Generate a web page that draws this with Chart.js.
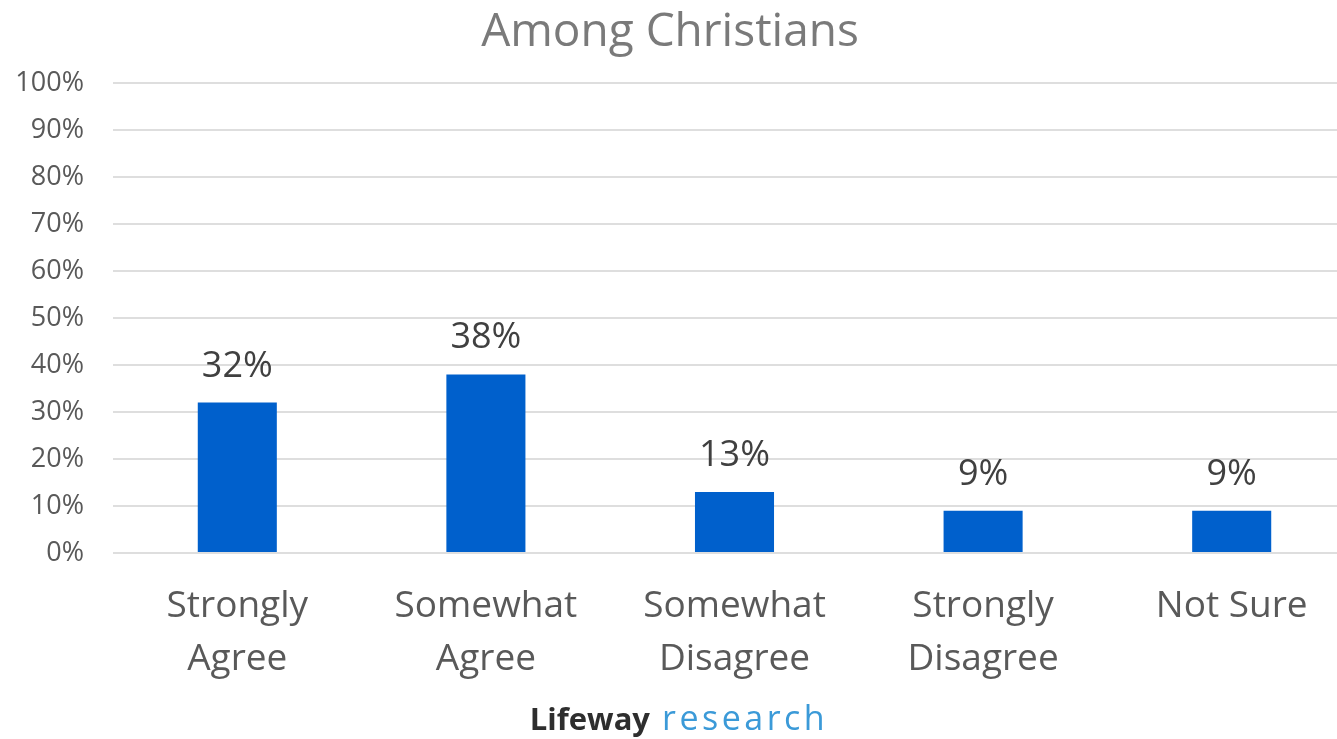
<!DOCTYPE html>
<html>
<head>
<meta charset="utf-8">
<script src="https://cdn.jsdelivr.net/npm/chart.js@4.4.1/dist/chart.umd.min.js"></script>
<style>
  html, body { margin: 0; padding: 0; background: #fff; overflow: hidden; }
  #wrap { position: relative; width: 1356px; height: 739px; }
</style>
</head>
<body>
<div id="wrap"><canvas id="chart"></canvas></div>
<script>
const categories = [['Strongly', 'Agree'], ['Somewhat', 'Agree'], ['Somewhat', 'Disagree'], ['Strongly', 'Disagree'], 'Not Sure'];
const shares = [32, 38, 13, 9, 9];
const yTicks = [0, 10, 20, 30, 40, 50, 60, 70, 80, 90, 100];

const FONT = '"Open Sans", Lato, sans-serif';

// value labels over the bars, title and the brand line at the bottom
const extras = {
  id: 'extras',
  afterDatasetsDraw(chart) {
    const ctx = chart.ctx;
    const meta = chart.getDatasetMeta(0);
    ctx.save();
    ctx.textAlign = 'center';
    ctx.textBaseline = 'alphabetic';
    ctx.fillStyle = '#404040';
    ctx.font = '36px ' + FONT;
    meta.data.forEach((bar, i) => {
      ctx.fillText(shares[i] + '%', bar.x, bar.y - 26);
    });

    ctx.fillStyle = '#7a7a7a';
    ctx.font = '46px ' + FONT;
    ctx.fillText('Among Christians', 670, 46);

    ctx.textAlign = 'left';
    ctx.font = 'bold 31px ' + FONT;
    const w1 = ctx.measureText('Lifeway').width;
    ctx.font = '34px ' + FONT;
    ctx.letterSpacing = '3.5px';
    const w2 = ctx.measureText('research').width;
    const x0 = 679 - (w1 + 12 + w2) / 2;
    ctx.fillStyle = '#3b9ad8';
    ctx.fillText('research', x0 + w1 + 12, 730);
    ctx.letterSpacing = '0px';
    ctx.font = 'bold 31px ' + FONT;
    ctx.fillStyle = '#2e2e2e';
    ctx.fillText('Lifeway', x0, 730);
    ctx.restore();
  }
};

new Chart(document.getElementById('chart'), {
  type: 'bar',
  data: {
    labels: categories,
    datasets: [{
      data: shares,
      backgroundColor: '#0060cc',
      barPercentage: 0.318,
      categoryPercentage: 1
    }]
  },
  options: {
    responsive: true,
    maintainAspectRatio: false,
    animation: false,
    layout: { padding: { top: 83, right: 0, bottom: 0, left: 0 } },
    plugins: {
      legend: { display: false },
      tooltip: { enabled: false }
    },
    scales: {
      x: {
        afterFit(scale) { scale.height = 186; },
        grid: { display: false },
        border: { display: false },
        ticks: {
          color: '#595959',
          font: { family: FONT, size: 37, lineHeight: 1.43 },
          padding: 19,
          maxRotation: 0,
          autoSkip: false
        }
      },
      y: {
        min: 0,
        max: 100,
        afterFit(scale) { scale.width = 113; },
        afterBuildTicks(scale) { scale.ticks = yTicks.map(v => ({ value: v })); },
        grid: { color: '#dedede', lineWidth: 2, drawTicks: false },
        border: { display: false },
        ticks: {
          color: '#595959',
          font: { family: FONT, size: 27 },
          padding: 29,
          callback: v => v + '%'
        }
      }
    }
  },
  plugins: [extras]
});
</script>
</body>
</html>
